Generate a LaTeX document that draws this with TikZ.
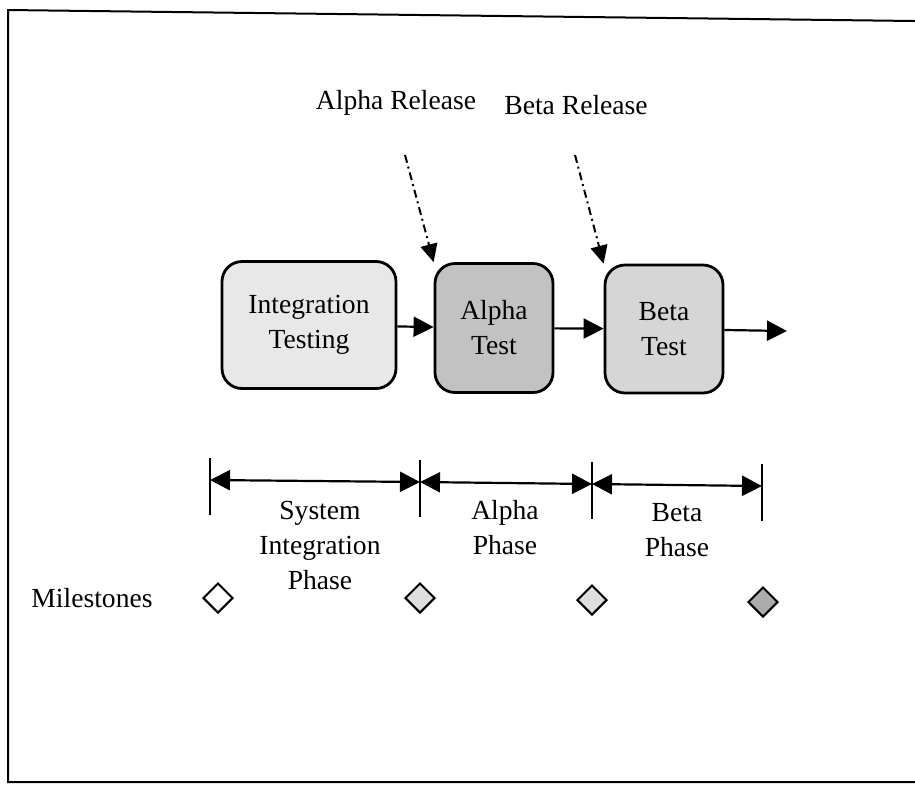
\documentclass[tikz,border=0pt]{standalone}
\usepackage{fontspec}
\setmainfont{Liberation Serif}
\usepackage{tikz}
\usetikzlibrary{arrows.meta,shapes.geometric}

\tikzset{
  stage/.style={draw, line width=1.4pt, rounded corners=10pt, align=center},
  flow/.style={line width=1.1pt, -{Triangle[length=10pt,width=10pt]}},
  release/.style={line width=1pt, dash pattern=on 4pt off 2pt on 1pt off 2pt, -{Triangle[length=9pt,width=8.5pt]}},
  span/.style={line width=1.1pt, {Triangle[length=10pt,width=10pt]}-{Triangle[length=10pt,width=10pt]}},
  tick/.style={line width=1pt},
  milestone/.style={diamond, draw, line width=1pt, minimum size=15pt, inner sep=0pt}
}

\begin{document}
\begin{tikzpicture}[x=0.5pt,y=-0.5pt,font=\fontsize{13.8}{17.5}\selectfont]
\useasboundingbox (0,0) rectangle (915,784);
\draw[line width=1pt] (915,21) -- (8,10) -- (8,782) -- (915,782);

\node[stage, fill=gray!18, minimum width=87pt, minimum height=63.5pt] (integ) at (309,325) {Integration\\Testing};
\node[stage, fill=gray!48, minimum width=59pt, minimum height=64.5pt] (alpha) at (494,328) {Alpha\\Test};
\node[stage, fill=gray!32, minimum width=59pt, minimum height=64pt] (beta) at (664,329) {Beta\\Test};
\coordinate (out) at (787,331);
\draw[flow] (integ) -- (alpha);
\draw[flow] (alpha) -- (beta);
\draw[flow] (beta) -- (out);

\node (relA) at (396,103) {Alpha Release};
\node (relB) at (576,105) {Beta Release};
\coordinate (relAfrom) at (405,155);
\coordinate (relBfrom) at (575,155);
\draw[release] (relAfrom) -- (alpha.north west);
\draw[release] (relBfrom) -- (beta.north west);

\coordinate (m0) at (210,480);
\coordinate (m1) at (420,482);
\coordinate (m2) at (592,484);
\coordinate (m3) at (762,486);
\draw[tick] (m0) ++(0,-22) -- ++(0,57);
\draw[tick] (m1) ++(0,-22) -- ++(0,57);
\draw[tick] (m2) ++(0,-22) -- ++(0,57);
\draw[tick] (m3) ++(0,-22) -- ++(0,57);
\draw[span] (m0) -- (m1);
\draw[span] (m1) -- (m2);
\draw[span] (m2) -- (m3);

\node[align=center] (sysphase) at (320,545) {System\\Integration\\Phase};
\node[align=center] (alphaphase) at (505,528) {Alpha\\Phase};
\node[align=center] (betaphase) at (677,530) {Beta\\Phase};

\node (miles) at (92,598) {Milestones};
\node[milestone, fill=white] (d0) at (218,598) {};
\node[milestone, fill=gray!25] (d1) at (420,598) {};
\node[milestone, fill=gray!25] (d2) at (592,600) {};
\node[milestone, fill=gray!65] (d3) at (763,602) {};
\end{tikzpicture}
\end{document}
